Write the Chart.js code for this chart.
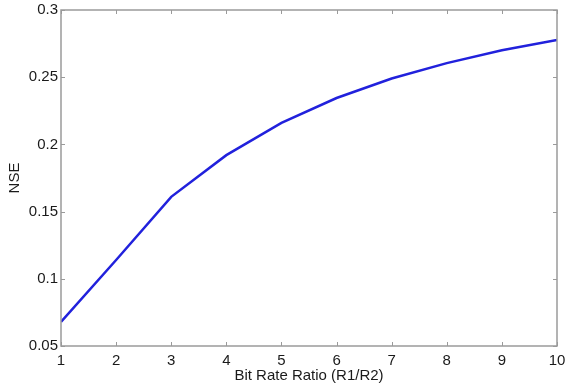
<!DOCTYPE html>
<html><head><meta charset="utf-8">
<script src="https://cdn.jsdelivr.net/npm/chart.js@4"></script>
<style>html,body{margin:0;padding:0;background:#fff;}#wrap{width:566px;height:385px;position:relative;}</style>
</head><body><div id="wrap"><canvas id="c" width="566" height="385"></canvas></div>
<script>
const ratios = [1, 2, 3, 4, 5, 6, 7, 8, 9, 10];
const nse = [0.068, 0.114, 0.161, 0.192, 0.216, 0.2345, 0.249, 0.2605, 0.270, 0.2777];
const xTicks = [1, 2, 3, 4, 5, 6, 7, 8, 9, 10];
const yTicks = [0.05, 0.1, 0.15, 0.2, 0.25, 0.3];

const tickFont = {family: '"Liberation Sans", Arial, sans-serif', size: 15};
const boxPlugin = {
  id: 'box',
  afterDraw(chart) {
    const {ctx, chartArea: a, scales: {x, y}} = chart;
    ctx.save();
    ctx.strokeStyle = '#9a9a9a';
    ctx.lineWidth = 1.5;
    ctx.strokeRect(a.left, a.top, a.right - a.left, a.bottom - a.top);
    ctx.lineWidth = 1;
    ctx.beginPath();
    const L = 4;
    xTicks.forEach(v => {
      const px = Math.round(x.getPixelForValue(v)) + 0.5;
      ctx.moveTo(px, a.bottom); ctx.lineTo(px, a.bottom - L);
      ctx.moveTo(px, a.top); ctx.lineTo(px, a.top + L);
    });
    yTicks.forEach(v => {
      const py = Math.round(y.getPixelForValue(v)) + 0.5;
      ctx.moveTo(a.left, py); ctx.lineTo(a.left + L, py);
      ctx.moveTo(a.right, py); ctx.lineTo(a.right - L, py);
    });
    ctx.stroke();
    ctx.restore();
  }
};

new Chart(document.getElementById('c'), {
  type: 'line',
  data: {
    datasets: [{
      data: ratios.map((r, i) => ({x: r, y: nse[i]})),
      borderColor: '#2121dc',
      borderWidth: 2.5,
      pointRadius: 0,
      tension: 0,
      fill: false
    }]
  },
  options: {
    responsive: false,
    animation: false,
    layout: {padding: {top: 10, right: 9, left: 0, bottom: 0}},
    plugins: {legend: {display: false}, tooltip: {enabled: false}},
    scales: {
      x: {
        type: 'linear', min: 1, max: 10,
        afterBuildTicks: s => { s.ticks = xTicks.map(v => ({value: v})); },
        afterFit: s => { s.height = 39; s.paddingLeft = 0; s.paddingRight = 0; },
        grid: {display: false, drawTicks: false},
        border: {display: false},
        ticks: {color: '#1a1a1a', font: tickFont, padding: 6, maxRotation: 0, callback: v => String(v)},
        title: {display: true, text: 'Bit Rate Ratio (R1/R2)', color: '#1a1a1a', font: tickFont, padding: {top: -2, bottom: 0}}
      },
      y: {
        type: 'linear', min: 0.05, max: 0.3,
        afterBuildTicks: s => { s.ticks = yTicks.map(v => ({value: v})); },
        afterFit: s => { s.width = 61; s.paddingTop = 0; s.paddingBottom = 0; },
        grid: {display: false, drawTicks: false},
        border: {display: false},
        ticks: {color: '#1a1a1a', font: tickFont, padding: 3, callback: v => String(+v.toFixed(2))},
        title: {display: true, text: 'NSE', color: '#1a1a1a', font: tickFont, padding: {top: 6, bottom: 2}}
      }
    }
  },
  plugins: [boxPlugin]
});
</script></body></html>
